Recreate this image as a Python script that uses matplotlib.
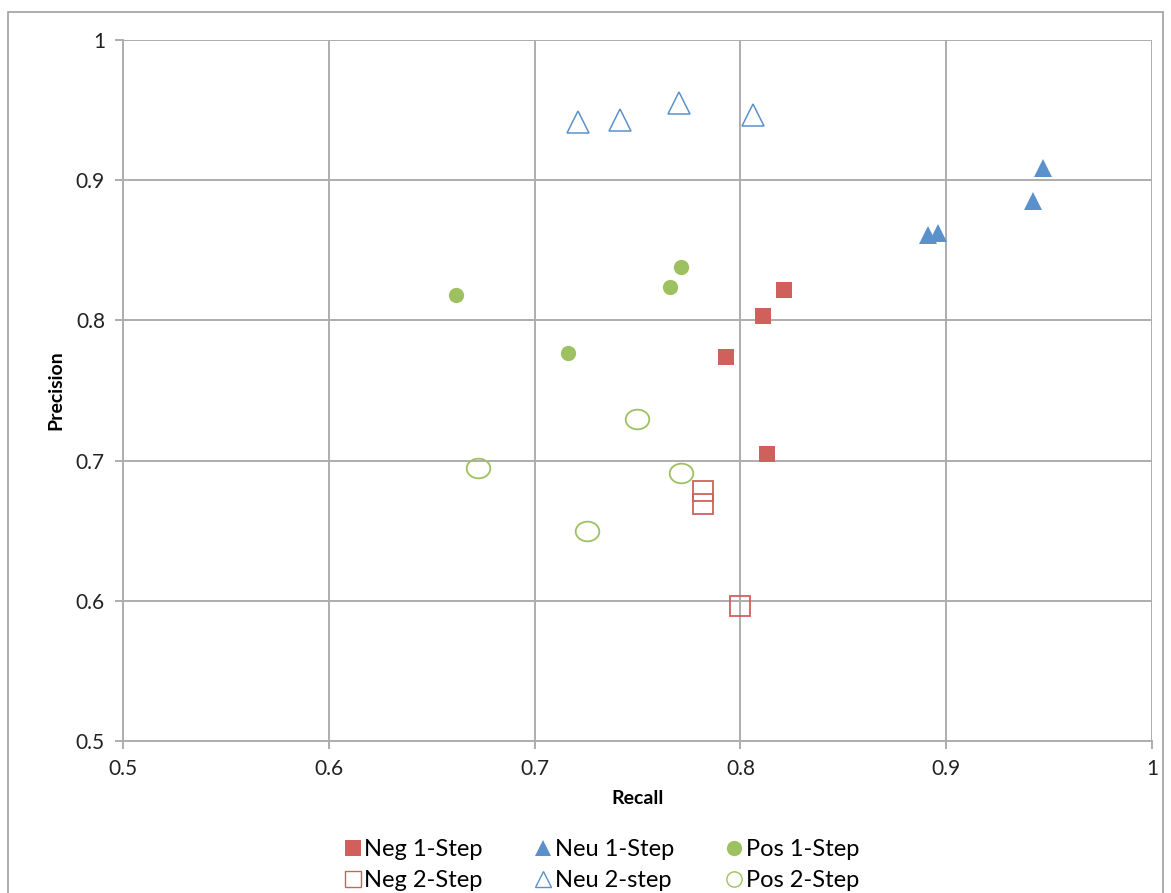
import matplotlib
matplotlib.use("Agg")
import matplotlib.pyplot as plt
from matplotlib.patches import Rectangle
from matplotlib.path import Path
from matplotlib.lines import Line2D
import numpy as np

# Recall / precision pairs per sentiment class and classifier setup
neg1_recall = [0.821, 0.811, 0.793, 0.813]
neg1_prec = [0.822, 0.803, 0.774, 0.705]
neg2_recall = [0.782, 0.782, 0.800]
neg2_prec = [0.678, 0.669, 0.596]
neu1_recall = [0.891, 0.896, 0.942, 0.947]
neu1_prec = [0.861, 0.862, 0.885, 0.909]
neu2_recall = [0.721, 0.7415, 0.770, 0.806]
neu2_prec = [0.9415, 0.943, 0.955, 0.9465]
pos1_recall = [0.662, 0.716, 0.766, 0.771]
pos1_prec = [0.818, 0.777, 0.824, 0.838]
pos2_recall = [0.6725, 0.750, 0.771, 0.7255]
pos2_prec = [0.695, 0.730, 0.691, 0.650]

tick_values = [0.5, 0.6, 0.7, 0.8, 0.9, 1.0]
tick_labels = ["0.5", "0.6", "0.7", "0.8", "0.9", "1"]

RED = "#D0605C"
BLUE = "#5A91CB"
GREEN = "#9DC160"
GRID = "#ADADAD"

plt.rcParams["font.family"] = ["Lato", "DejaVu Sans"]

fig = plt.figure(figsize=(11.71, 8.93), dpi=100)
ax = fig.add_axes([0.1050, 0.1702, 0.8788, 0.7850])

# slightly wide ellipse for the hollow circle series
circ = Path.unit_circle()
ellipse = Path(circ.vertices * np.array([1.2, 1.0]), circ.codes)

ax.plot(neg1_recall, neg1_prec, ls="none", marker="s", ms=11, mfc=RED, mec=RED,
        mew=0, label="Neg 1-Step", zorder=3)
ax.plot(neg2_recall, neg2_prec, ls="none", marker="s", ms=15, mfc="none", mec=RED,
        mew=1.3, label="Neg 2-Step", zorder=3)
ax.plot(neu1_recall, neu1_prec, ls="none", marker="^", ms=13, mfc=BLUE, mec=BLUE,
        mew=0, label="Neu 1-Step", zorder=3)
ax.plot(neu2_recall, neu2_prec, ls="none", marker="^", ms=16, mfc="none", mec=BLUE,
        mew=1.1, label="Neu 2-step", zorder=3)
ax.plot(pos1_recall, pos1_prec, ls="none", marker="o", ms=11, mfc=GREEN, mec=GREEN,
        mew=0, label="Pos 1-Step", zorder=3)
ax.plot(pos2_recall, pos2_prec, ls="none", marker=ellipse, ms=17, mfc="none", mec=GREEN,
        mew=1.3, label="Pos 2-Step", zorder=3)

ax.set_xlim(0.5, 1.0)
ax.set_ylim(0.5, 1.0)
ax.set_xticks(tick_values)
ax.set_xticklabels(tick_labels)
ax.set_yticks(tick_values)
ax.set_yticklabels(tick_labels)
ax.grid(True, color=GRID, lw=1.4)
ax.set_axisbelow(True)
for s in ["top", "right"]:
    ax.spines[s].set_visible(False)
for s in ["left", "bottom"]:
    ax.spines[s].set_color(GRID)
    ax.spines[s].set_linewidth(1.4)
ax.tick_params(axis="both", which="major", direction="out", length=6, width=1.4,
               color=GRID, labelsize=15, labelcolor="#222222", pad=7)

ax.set_xlabel("Recall", fontsize=14, fontweight="bold", labelpad=8)
ax.set_ylabel("Precision", fontsize=14, fontweight="bold", labelpad=8)

handles, labels = ax.get_legend_handles_labels()
legend_sizes = [11, 12, 12, 12, 11, 11]
leg_handles = []
for h, sz in zip(handles, legend_sizes):
    m = h.get_marker()
    if m is ellipse:
        m = "o"
    leg_handles.append(Line2D([], [], ls="none", marker=m, ms=sz,
                              mfc=h.get_markerfacecolor(), mec=h.get_markeredgecolor(),
                              mew=1.0 if h.get_markerfacecolor() == "none" else 0))
fig.legend(leg_handles, labels, ncol=3, loc="lower center", bbox_to_anchor=(0.513, -0.022),
           frameon=False, fontsize=17, handletextpad=0.05, columnspacing=2.1,
           labelspacing=0.45, handlelength=0.9)

# chart-area frame
fig.add_artist(Rectangle((8 / 1171, -0.05), (1163 - 8) / 1171, 1 - 12 / 893 + 0.05,
                         transform=fig.transFigure, fill=False, ec="#A0A0A0", lw=1.2))

fig.savefig("out.png", dpi=100)
